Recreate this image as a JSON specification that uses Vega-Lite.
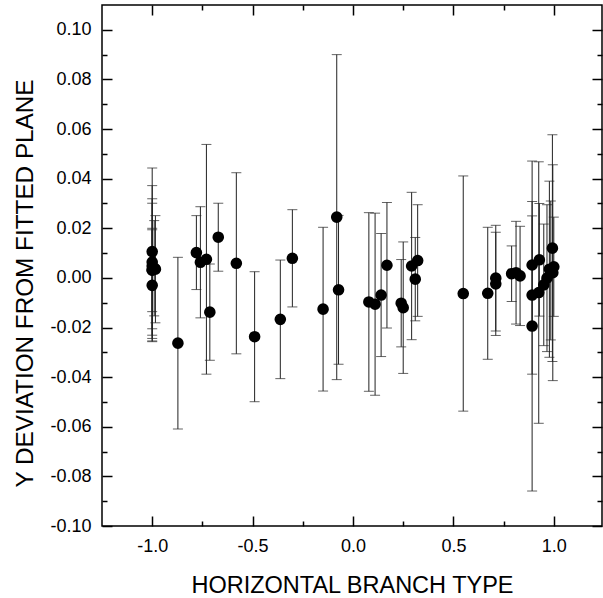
{
  "$schema": "https://vega.github.io/schema/vega-lite/v6.json",
  "width": 500,
  "height": 521,
  "autosize": "none",
  "padding": {"left": 102, "top": 5, "right": 1, "bottom": 72},
  "background": "white",
  "config": {
    "view": {"stroke": "black", "strokeWidth": 1.5},
    "font": "Liberation Sans",
    "axis": {"labelFont": "Liberation Sans", "titleFont": "Liberation Sans", "labelColor": "black", "titleColor": "black", "tickColor": "black", "titleFontWeight": "normal", "grid": false, "domain": false, "tickWidth": 1.5}
  },
  "data": {
    "values": [
      {"x": -1.0, "y": 0.0106, "e": 0.0337},
      {"x": -1.0, "y": 0.0064, "e": 0.0308},
      {"x": -1.0, "y": 0.0031, "e": 0.0288},
      {"x": -1.0, "y": 0.0048, "e": 0.0253},
      {"x": -0.99, "y": 0.0039, "e": 0.0192},
      {"x": -0.984, "y": 0.0035, "e": 0.0216},
      {"x": -1.0, "y": 0.0032, "e": 0.0168},
      {"x": -1.0, "y": -0.003, "e": 0.0224},
      {"x": -0.872, "y": -0.0263, "e": 0.0346},
      {"x": -0.78, "y": 0.0102, "e": 0.0149},
      {"x": -0.76, "y": 0.0063, "e": 0.0224},
      {"x": -0.73, "y": 0.0075, "e": 0.0463},
      {"x": -0.713, "y": -0.0138, "e": 0.0194},
      {"x": -0.671, "y": 0.0164, "e": 0.0137},
      {"x": -0.581, "y": 0.0059, "e": 0.0365},
      {"x": -0.49, "y": -0.0237, "e": 0.0262},
      {"x": -0.362, "y": -0.0167, "e": 0.0239},
      {"x": -0.302, "y": 0.0079, "e": 0.0196},
      {"x": -0.149, "y": -0.0126, "e": 0.033},
      {"x": -0.081, "y": 0.0245, "e": 0.0655},
      {"x": -0.072, "y": -0.0048, "e": 0.03},
      {"x": 0.079, "y": -0.0097, "e": 0.036},
      {"x": 0.11, "y": -0.0106, "e": 0.0367},
      {"x": 0.14, "y": -0.0069, "e": 0.0248},
      {"x": 0.169, "y": 0.0051, "e": 0.0253},
      {"x": 0.24, "y": -0.0102, "e": 0.0176},
      {"x": 0.25, "y": -0.012, "e": 0.0265},
      {"x": 0.292, "y": 0.0048, "e": 0.0297},
      {"x": 0.322, "y": 0.007, "e": 0.0225},
      {"x": 0.31, "y": -0.0005, "e": 0.0168},
      {"x": 0.549, "y": -0.0063, "e": 0.0474},
      {"x": 0.671, "y": -0.0062, "e": 0.0266},
      {"x": 0.711, "y": -0.0001, "e": 0.0213},
      {"x": 0.711, "y": -0.0024, "e": 0.0208},
      {"x": 0.79, "y": 0.0017, "e": 0.0112},
      {"x": 0.812, "y": 0.0021, "e": 0.0207},
      {"x": 0.832, "y": 0.0008, "e": 0.02},
      {"x": 0.892, "y": 0.0052, "e": 0.0256},
      {"x": 0.892, "y": -0.0069, "e": 0.0319},
      {"x": 0.892, "y": -0.0194, "e": 0.0665},
      {"x": 0.928, "y": 0.0073, "e": 0.0227},
      {"x": 0.925, "y": -0.0059, "e": 0.0527},
      {"x": 0.95, "y": -0.0028, "e": 0.0245},
      {"x": 0.966, "y": -0.0001, "e": 0.0296},
      {"x": 0.978, "y": 0.0035, "e": 0.0355},
      {"x": 0.993, "y": 0.012, "e": 0.0457},
      {"x": 0.995, "y": 0.0021, "e": 0.0435},
      {"x": 1.0, "y": 0.0045, "e": 0.02},
      {"x": 0.985, "y": 0.003, "e": 0.028}
    ]
  },
  "layer": [
    {
      "mark": {"type": "errorbar", "ticks": {"size": 10, "color": "#222", "strokeWidth": 1}, "rule": {"color": "#222", "strokeWidth": 1}},
      "encoding": {
        "x": {
          "field": "x", "type": "quantitative",
          "scale": {"domain": [-1.25, 1.24], "nice": false, "zero": false},
          "axis": {
            "orient": "bottom",
            "values": [-1.0, -0.75, -0.5, -0.25, 0, 0.25, 0.5, 0.75, 1.0],
            "labelExpr": "abs(datum.value*2 - round(datum.value*2)) < 0.001 ? replace(format(datum.value, '.1f'), '\u2212', '-') : ''",
            "tickSize": {"condition": {"test": "abs(datum.value*2 - round(datum.value*2)) < 0.001", "value": -10}, "value": -5},
            "labelFontSize": 18,
            "labelPadding": 21,
            "title": "HORIZONTAL BRANCH TYPE",
            "titleFontSize": 23.5,
            "titleBaseline": "alphabetic",
            "titleY": 66
          }
        },
        "y": {
          "field": "y", "type": "quantitative",
          "scale": {"domain": [-0.1, 0.11], "nice": false, "zero": false},
          "axis": {
            "orient": "left",
            "values": [-0.1, -0.09, -0.08, -0.07, -0.06, -0.05, -0.04, -0.03, -0.02, -0.01, 0, 0.01, 0.02, 0.03, 0.04, 0.05, 0.06, 0.07, 0.08, 0.09, 0.1],
            "labelExpr": "abs(datum.value*50 - round(datum.value*50)) < 0.01 ? replace(format(datum.value, '.2f'), '\u2212', '-') : ''",
            "tickSize": {"condition": {"test": "abs(datum.value*50 - round(datum.value*50)) < 0.01", "value": -10}, "value": -5},
            "labelFontSize": 18,
            "labelPadding": 21,
            "title": "Y DEVIATION FROM FITTED PLANE",
            "titleFontSize": 24.3,
            "titleBaseline": "alphabetic",
            "titleX": -70,
            "titleY": 278
          }
        },
        "yError": {"field": "e"}
      }
    },
    {
      "mark": {"type": "point", "filled": true, "shape": "circle", "size": 135, "color": "black", "opacity": 1},
      "encoding": {
        "x": {
          "field": "x", "type": "quantitative",
          "axis": {
            "orient": "top",
            "values": [-1.0, -0.75, -0.5, -0.25, 0, 0.25, 0.5, 0.75, 1.0],
            "labels": false,
            "title": null,
            "tickSize": {"condition": {"test": "abs(datum.value*2 - round(datum.value*2)) < 0.001", "value": -10}, "value": -5}
          }
        },
        "y": {
          "field": "y", "type": "quantitative",
          "axis": {
            "orient": "right",
            "values": [-0.1, -0.09, -0.08, -0.07, -0.06, -0.05, -0.04, -0.03, -0.02, -0.01, 0, 0.01, 0.02, 0.03, 0.04, 0.05, 0.06, 0.07, 0.08, 0.09, 0.1],
            "labels": false,
            "title": null,
            "tickSize": {"condition": {"test": "abs(datum.value*50 - round(datum.value*50)) < 0.01", "value": -10}, "value": -5}
          }
        }
      }
    }
  ],
  "resolve": {"axis": {"x": "independent", "y": "independent"}}
}
